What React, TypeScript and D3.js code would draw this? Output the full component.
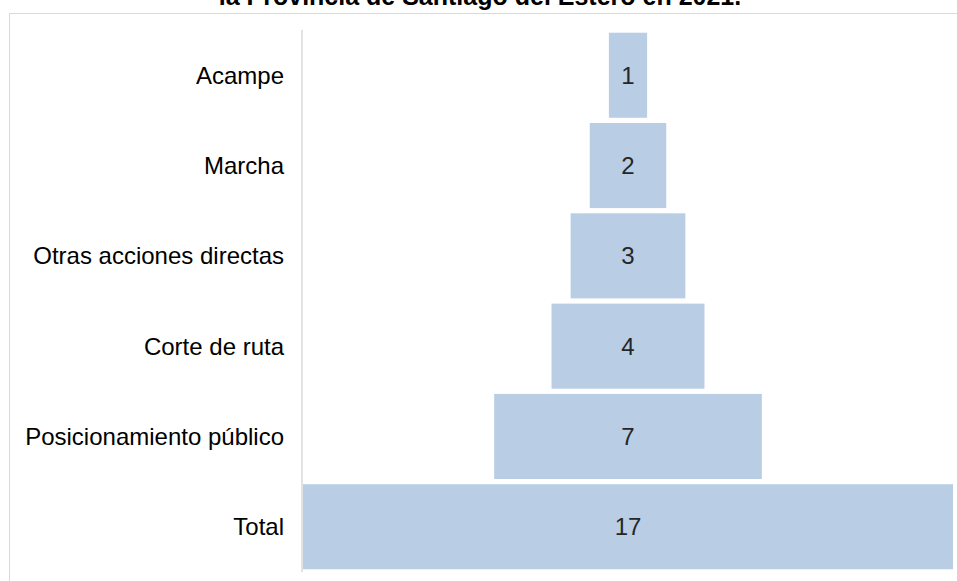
import React from "react";
import * as d3 from "d3";

const categories = ["Acampe", "Marcha", "Otras acciones directas", "Corte de ruta", "Posicionamiento público", "Total"];
const values = [1, 2, 3, 4, 7, 17];
const title = "la Provincia de Santiago del Estero en 2021.";

const W = 957;
const H = 581;

export default function App() {
  const axisX = 302;
  const plotRight = 953;
  const center = (axisX + 1 + plotRight) / 2;
  const maxV = d3.max(values) as number;
  const xw = d3.scaleLinear().domain([0, maxV]).range([0, plotRight - axisX - 1]);
  const y = d3
    .scaleBand<string>()
    .domain(categories)
    .range([30, 572])
    .paddingInner(0.058)
    .paddingOuter(0.03);

  const font = "'Liberation Sans', Arial, Helvetica, sans-serif";

  return (
    <div style={{ position: "fixed", left: 0, top: 0, width: W, height: H, background: "#fff" }}>
      <svg width={W} height={H} style={{ display: "block" }}>
        <rect x={0} y={0} width={W} height={H} fill="#fff" />
        <text
          x={480}
          y={5}
          textAnchor="middle"
          fontFamily={font}
          fontWeight="bold"
          fontSize={25}
          fill="#000"
        >
          {title}
        </text>
        <rect x={9.5} y={13.5} width={W + 20} height={H + 20} fill="none" stroke="#d9d9d9" strokeWidth={1} />
        {categories.map((c, i) => {
          const w = xw(values[i]);
          const by = y(c) as number;
          return (
            <g key={c}>
              <rect x={center - w / 2} y={by} width={w} height={y.bandwidth()} fill="#b9cde5" />
              <text
                x={center}
                y={by + y.bandwidth() / 2}
                dy="0.36em"
                textAnchor="middle"
                fontFamily={font}
                fontSize={24}
                fill="#262626"
              >
                {values[i]}
              </text>
              <text
                x={284}
                y={by + y.bandwidth() / 2}
                dy="0.35em"
                textAnchor="end"
                fontFamily={font}
                fontSize={24}
                fill="#000"
              >
                {c}
              </text>
            </g>
          );
        })}
        <line x1={axisX} x2={axisX} y1={30} y2={572} stroke="#d9d9d9" strokeWidth={1.5} />
      </svg>
    </div>
  );
}
